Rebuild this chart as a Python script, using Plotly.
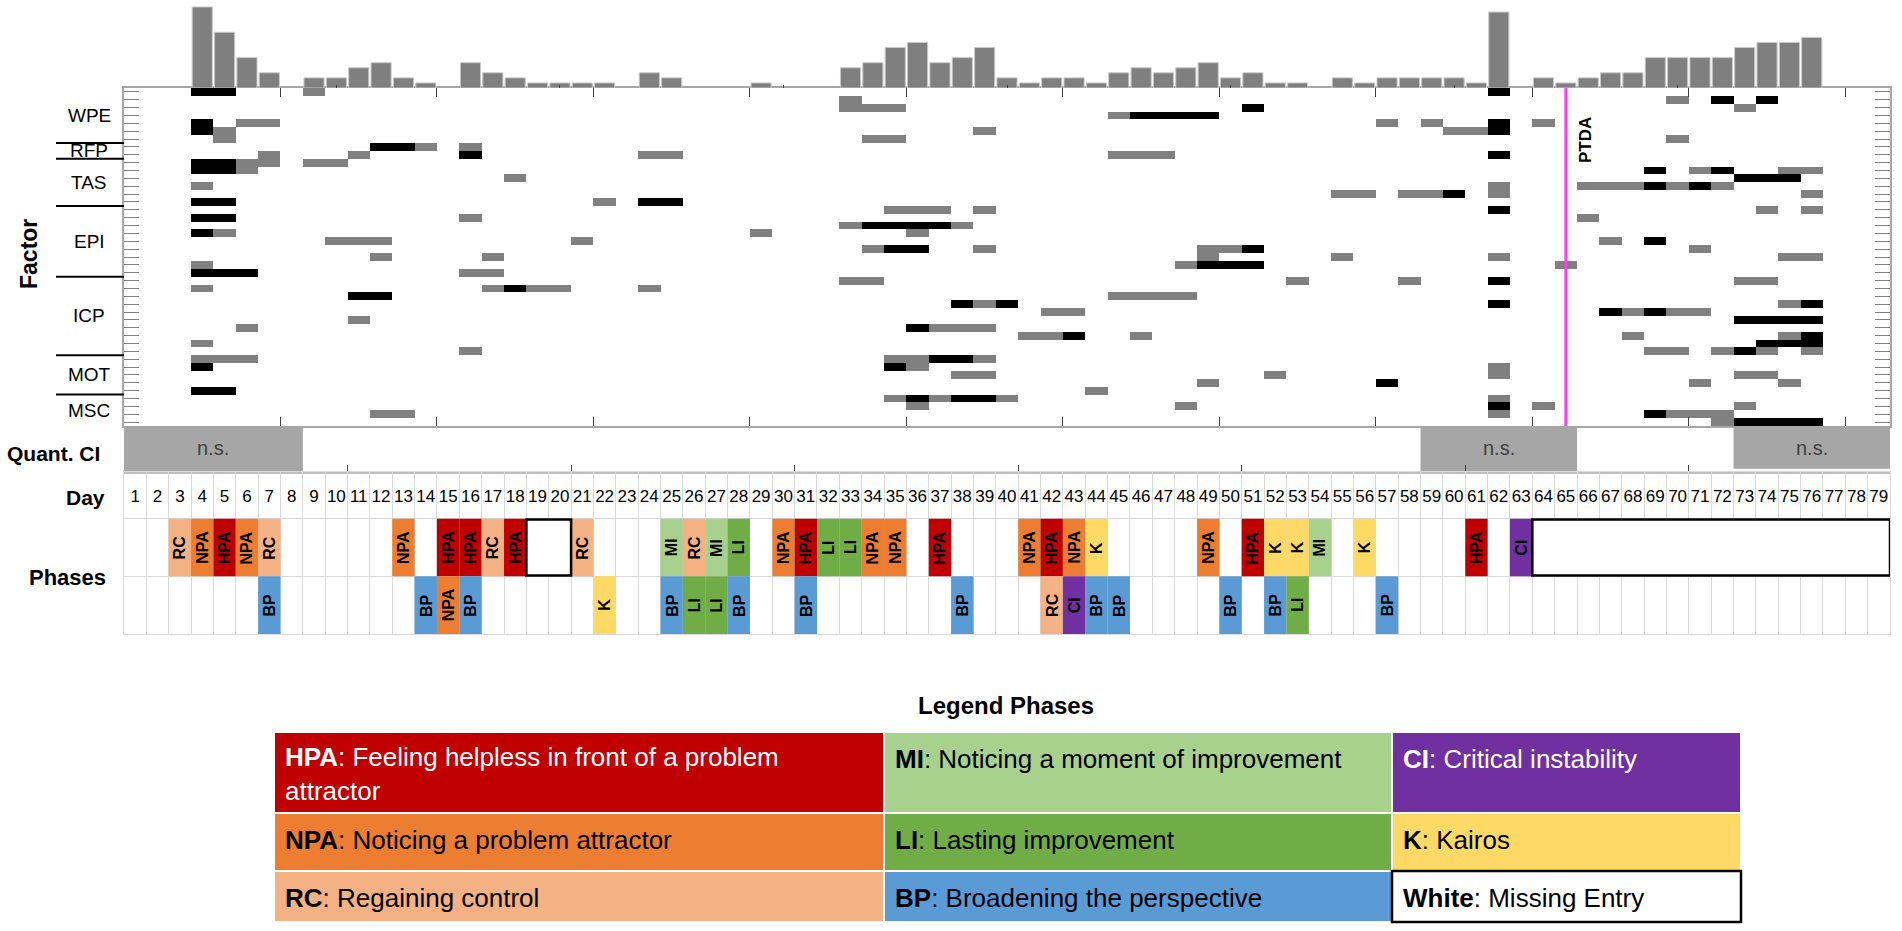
import plotly.graph_objects as go

W, H = 1902, 931
N_DAYS = 79
days = list(range(1, N_DAYS + 1))

# ---------------- data ----------------
# histogram above the heat map (days with a bar, bar heights)
hist_days = [4, 5, 6, 7, 9, 10, 11, 12, 13, 14, 16, 17, 18, 19, 20, 21, 22, 24, 25, 29,
             33, 34, 35, 36, 37, 38, 39, 40, 41, 42, 43, 44, 45, 46, 47, 48, 49, 50, 51, 52, 53,
             55, 56, 57, 58, 59, 60, 61, 62, 64, 65, 66, 67, 68, 69, 70, 71, 72, 73, 74, 75, 76]
hist_counts = [16, 11, 6, 3, 2, 2, 4, 5, 2, 1, 5, 3, 2, 1, 1, 1, 1, 3, 2, 1,
               4, 5, 8, 9, 5, 6, 8, 2, 1, 2, 2, 1, 3, 4, 3, 4, 5, 2, 3, 1, 1,
               2, 1, 2, 2, 2, 2, 1, 15, 2, 1, 2, 3, 3, 6, 6, 6, 6, 8, 9, 9, 10]

# factor groups and number of items (rows) in each
factor_names = ["WPE", "RFP", "TAS", "EPI", "ICP", "MOT", "MSC"]
factor_sizes = [7, 2, 6, 9, 10, 5, 4]

# heat-map marks per factor: (item row within factor, first day, last day, level 1=grey 2=black)
wpe_marks = [(0, 4, 5, 2), (0, 9, 9, 1), (0, 62, 62, 2),
             (1, 33, 33, 1), (1, 70, 70, 1), (1, 72, 72, 2), (1, 74, 74, 2),
             (2, 33, 35, 1), (2, 51, 51, 2), (2, 73, 73, 1),
             (3, 45, 45, 1), (3, 46, 49, 2),
             (4, 4, 4, 2), (4, 6, 7, 1), (4, 57, 57, 1), (4, 59, 59, 1), (4, 62, 62, 2), (4, 64, 64, 1),
             (5, 4, 4, 2), (5, 5, 5, 1), (5, 39, 39, 1), (5, 60, 61, 1), (5, 62, 62, 2),
             (6, 5, 5, 1), (6, 34, 35, 1), (6, 70, 70, 1)]
rfp_marks = [(0, 12, 13, 2), (0, 14, 14, 1), (0, 16, 16, 1),
             (1, 7, 7, 1), (1, 11, 11, 1), (1, 16, 16, 2), (1, 24, 25, 1), (1, 45, 47, 1), (1, 62, 62, 2)]
tas_marks = [(0, 4, 5, 2), (0, 6, 6, 1), (0, 7, 7, 1), (0, 9, 10, 1),
             (1, 4, 5, 2), (1, 6, 6, 1), (1, 69, 69, 2), (1, 71, 71, 1), (1, 72, 72, 2), (1, 75, 76, 1),
             (2, 18, 18, 1), (2, 73, 75, 2),
             (3, 4, 4, 1), (3, 62, 62, 1), (3, 66, 68, 1), (3, 69, 69, 2), (3, 70, 70, 1), (3, 71, 71, 2), (3, 72, 72, 1),
             (4, 55, 56, 1), (4, 58, 59, 1), (4, 60, 60, 2), (4, 62, 62, 1), (4, 76, 76, 1),
             (5, 4, 5, 2), (5, 22, 22, 1), (5, 24, 25, 2)]
epi_marks = [(0, 35, 37, 1), (0, 39, 39, 1), (0, 62, 62, 2), (0, 74, 74, 1), (0, 76, 76, 1),
             (1, 4, 5, 2), (1, 16, 16, 1), (1, 66, 66, 1),
             (2, 33, 33, 1), (2, 34, 37, 2), (2, 38, 38, 1),
             (3, 4, 4, 2), (3, 5, 5, 1), (3, 29, 29, 1), (3, 36, 36, 1),
             (4, 10, 12, 1), (4, 21, 21, 1), (4, 67, 67, 1), (4, 69, 69, 2),
             (5, 34, 34, 1), (5, 35, 36, 2), (5, 39, 39, 1), (5, 49, 50, 1), (5, 51, 51, 2), (5, 71, 71, 1),
             (6, 12, 12, 1), (6, 17, 17, 1), (6, 49, 49, 1), (6, 55, 55, 1), (6, 62, 62, 1), (6, 75, 76, 1),
             (7, 4, 4, 1), (7, 48, 48, 1), (7, 49, 51, 2), (7, 65, 65, 1),
             (8, 4, 6, 2), (8, 16, 17, 1)]
icp_marks = [(0, 33, 34, 1), (0, 53, 53, 1), (0, 58, 58, 1), (0, 62, 62, 2), (0, 73, 74, 1),
             (1, 4, 4, 1), (1, 17, 17, 1), (1, 18, 18, 2), (1, 19, 20, 1), (1, 24, 24, 1),
             (2, 11, 12, 2), (2, 45, 48, 1),
             (3, 38, 38, 2), (3, 39, 39, 1), (3, 40, 40, 2), (3, 62, 62, 2), (3, 75, 75, 1), (3, 76, 76, 2),
             (4, 42, 43, 1), (4, 67, 67, 2), (4, 68, 68, 1), (4, 69, 69, 2), (4, 70, 71, 1),
             (5, 11, 11, 1), (5, 73, 76, 2),
             (6, 6, 6, 1), (6, 36, 36, 2), (6, 37, 39, 1),
             (7, 41, 42, 1), (7, 43, 43, 2), (7, 46, 46, 1), (7, 68, 68, 1), (7, 75, 75, 1), (7, 76, 76, 2),
             (8, 4, 4, 1), (8, 74, 76, 2),
             (9, 16, 16, 1), (9, 69, 70, 1), (9, 72, 72, 1), (9, 73, 73, 2), (9, 74, 74, 1), (9, 76, 76, 1)]
mot_marks = [(0, 4, 6, 1), (0, 35, 36, 1), (0, 37, 38, 2), (0, 39, 39, 1),
             (1, 4, 4, 2), (1, 35, 35, 2), (1, 36, 36, 1), (1, 62, 62, 1),
             (2, 38, 39, 1), (2, 52, 52, 1), (2, 62, 62, 1), (2, 73, 74, 1),
             (3, 49, 49, 1), (3, 57, 57, 2), (3, 71, 71, 1), (3, 75, 75, 1),
             (4, 4, 5, 2), (4, 44, 44, 1)]
msc_marks = [(0, 35, 35, 1), (0, 36, 36, 2), (0, 37, 37, 1), (0, 38, 39, 2), (0, 40, 40, 1), (0, 62, 62, 1),
             (1, 36, 36, 1), (1, 48, 48, 1), (1, 62, 62, 2), (1, 64, 64, 1), (1, 73, 73, 1),
             (2, 12, 13, 1), (2, 62, 62, 1), (2, 69, 69, 2), (2, 70, 72, 1),
             (3, 72, 72, 1), (3, 73, 76, 2)]
factor_marks = [wpe_marks, rfp_marks, tas_marks, epi_marks, icp_marks, mot_marks, msc_marks]

# quantitative critical instability: non-significant stretches (first day, last day)
ns_first = [1, 59, 73]
ns_last = [8, 65, 79]

ptda_day = 65

# phases
phase1_days = [3, 4, 5, 6, 7, 13, 15, 16, 17, 18, 21, 25, 26, 27, 28, 30, 31, 32, 33, 34, 35, 37,
               41, 42, 43, 44, 49, 51, 52, 53, 54, 56, 61, 63]
phase1_codes = ["RC", "NPA", "HPA", "NPA", "RC", "NPA", "HPA", "HPA", "RC", "HPA", "RC", "MI", "RC", "MI",
                "LI", "NPA", "HPA", "LI", "LI", "NPA", "NPA", "HPA", "NPA", "HPA", "NPA", "K", "NPA",
                "HPA", "K", "K", "MI", "K", "HPA", "CI"]
phase2_days = [7, 14, 15, 16, 22, 25, 26, 27, 28, 31, 38, 42, 43, 44, 45, 50, 52, 53, 57]
phase2_codes = ["BP", "BP", "NPA", "BP", "K", "BP", "LI", "LI", "BP", "BP", "BP", "RC", "CI", "BP", "BP",
                "BP", "BP", "LI", "BP"]
missing_first = [19, 64]
missing_last = [20, 79]

phase_colors = {"HPA": "#C00000", "NPA": "#ED7D31", "RC": "#F4B183", "MI": "#A9D18E",
                "LI": "#70AD47", "BP": "#5B9BD5", "CI": "#7030A0", "K": "#FFD966", "White": "#FFFFFF"}

legend_codes = ["HPA", "MI", "CI", "NPA", "LI", "K", "RC", "BP", "White"]
legend_texts = ["Feeling helpless in front of a problem<br>attractor", "Noticing a moment of improvement",
                "Critical instability", "Noticing a problem attractor", "Lasting improvement", "Kairos",
                "Regaining control", "Broadening the perspective", "Missing Entry"]
legend_text_colors = ["white", "black", "white", "black", "black", "black", "black", "black", "black"]

# ---------------- layout helpers ----------------
FONT = "Liberation Sans, Arial, sans-serif"
XL, XR = 124, 1890  # plot left/right in px


def py(p):  # page pixel y -> paper
    return 1 - p / H


def px(p):
    return p / W


def ann(**kw):
    d = dict(showarrow=False, xanchor="center", yanchor="middle")
    d.update(kw)
    return d


xdom = [px(XL), px(XR)]
xr = [0.5, N_DAYS + 0.5]

# build heat-map matrix
n_rows = sum(factor_sizes)
z = [[0] * N_DAYS for _ in range(n_rows)]
offset = 0
for size, marks in zip(factor_sizes, factor_marks):
    for r, d0, d1, lev in marks:
        for d in range(d0, d1 + 1):
            z[offset + r][d - 1] = lev
    offset += size

fig = go.Figure()

fig.add_trace(go.Heatmap(
    z=z, x=days, y=list(range(n_rows)), xaxis="x", yaxis="y3",
    zmin=0, zmax=2, showscale=False, hoverinfo="skip",
    colorscale=[[0, "white"], [0.33, "white"], [0.34, "#808080"], [0.66, "#808080"],
                [0.67, "black"], [1, "black"]]))

fig.add_trace(go.Bar(
    x=hist_days, y=hist_counts, xaxis="x3", yaxis="y2", width=0.9,
    marker=dict(color="#7f7f7f", line=dict(color="#c8c8c8", width=1)), hoverinfo="skip"))

# quant CI boxes
fig.add_trace(go.Bar(
    x=[(a + b) / 2 for a, b in zip(ns_first, ns_last)],
    width=[b - a + 1 for a, b in zip(ns_first, ns_last)],
    y=[0.96, 0.96, 0.90], base=[0.02, 0.02, 0.07],
    xaxis="x4", yaxis="y5", marker=dict(color="#a6a6a6", line=dict(width=0)), hoverinfo="skip"))

# phases rows
fig.add_trace(go.Bar(
    x=phase1_days, y=[1] * len(phase1_days), base=[1] * len(phase1_days), width=1,
    xaxis="x5", yaxis="y4", marker=dict(color=[phase_colors[c] for c in phase1_codes], line=dict(width=0)),
    hoverinfo="skip"))
fig.add_trace(go.Bar(
    x=phase2_days, y=[1] * len(phase2_days), base=[0] * len(phase2_days), width=1,
    xaxis="x5", yaxis="y4", marker=dict(color=[phase_colors[c] for c in phase2_codes], line=dict(width=0)),
    hoverinfo="skip"))
fig.add_trace(go.Bar(
    x=[(a + b) / 2 for a, b in zip(missing_first, missing_last)],
    width=[b - a + 1 for a, b in zip(missing_first, missing_last)],
    y=[0.97, 0.97], base=[1.015, 1.015],
    xaxis="x5", yaxis="y4", marker=dict(color="white", line=dict(color="black", width=2.5)),
    hoverinfo="skip"))

# day numbers
fig.add_trace(go.Scatter(
    x=days, y=[2.37] * N_DAYS, mode="text", text=[str(d) for d in days],
    textfont=dict(family=FONT, size=17, color="black"), xaxis="x5", yaxis="y4", hoverinfo="skip"))

annotations = []
shapes = []

for d, c in zip(phase1_days, phase1_codes):
    annotations.append(ann(x=d, y=1.5, xref="x5", yref="y4", text="<b>%s</b>" % c, textangle=-90,
                           font=dict(family=FONT, size=16, color="black")))
for d, c in zip(phase2_days, phase2_codes):
    annotations.append(ann(x=d, y=0.5, xref="x5", yref="y4", text="<b>%s</b>" % c, textangle=-90,
                           font=dict(family=FONT, size=16, color="black")))

for a, b in zip(ns_first, ns_last):
    annotations.append(ann(x=(a + b) / 2, y=0.52, xref="x4", yref="y5", text="n.s.",
                           font=dict(family=FONT, size=20, color="#404040")))

# factor labels and separators
offset = 0
for name, size in zip(factor_names, factor_sizes):
    annotations.append(ann(x=px(89), y=offset + (size - 1) / 2, xref="paper", yref="y3", text=name,
                           font=dict(family=FONT, size=19, color="black")))
    if offset > 0:
        shapes.append(dict(type="line", xref="paper", yref="y3", x0=px(56), x1=px(XL),
                           y0=offset - 0.5, y1=offset - 0.5, line=dict(color="black", width=2)))
    offset += size

annotations += [
    ann(x=px(29), y=py(254), xref="paper", yref="paper", text="<b>Factor</b>", textangle=-90,
        font=dict(family=FONT, size=23, color="black")),
    ann(x=px(102), y=py(454), xref="paper", yref="paper", text="<b>Quant. CI</b>", xanchor="right",
        font=dict(family=FONT, size=21, color="black")),
    ann(x=px(107), y=py(497), xref="paper", yref="paper", text="<b>Day</b>", xanchor="right",
        font=dict(family=FONT, size=21, color="black")),
    ann(x=px(108), y=py(577), xref="paper", yref="paper", text="<b>Phases</b>", xanchor="right",
        font=dict(family=FONT, size=22, color="black")),
    ann(x=px(1585), y=py(140), xref="paper", yref="paper", text="<b>PTDA</b>", textangle=-90,
        font=dict(family=FONT, size=17, color="black")),
    ann(x=px(1006), y=py(705), xref="paper", yref="paper", text="<b>Legend Phases</b>",
        font=dict(family=FONT, size=24, color="black")),
]

shapes.append(dict(type="line", xref="x", yref="y3", x0=ptda_day, x1=ptda_day, y0=-0.5, y1=n_rows - 0.5,
                   line=dict(color="#FF3BFF", width=3)))

# legend table
col_edges = [274, 884, 1392, 1741]
row_edges = [732, 813, 871, 922]
for i, (code, txt, tc) in enumerate(zip(legend_codes, legend_texts, legend_text_colors)):
    r, c = divmod(i, 3)
    x0, x1 = col_edges[c], col_edges[c + 1]
    y0, y1 = row_edges[r], row_edges[r + 1]
    border = dict(color="black", width=2.5) if code == "White" else dict(color="white", width=2)
    shapes.append(dict(type="rect", xref="paper", yref="paper", x0=px(x0), x1=px(x1), y0=py(y0), y1=py(y1),
                       fillcolor=phase_colors[code], line=border, layer="above"))
    yc = (757 + 791) / 2 if "<br>" in txt else y0 + 27
    annotations.append(ann(x=px(x0 + 9), y=py(yc), xref="paper", yref="paper", xanchor="left",
                           align="left", text="<b>%s</b>: %s" % (code, txt),
                           font=dict(family=FONT, size=26, color=tc)))

common_x = dict(domain=xdom, range=xr, showticklabels=False, zeroline=False, showgrid=False, fixedrange=True)

fig.update_layout(
    width=W, height=H, margin=dict(l=0, r=0, t=0, b=0),
    paper_bgcolor="white", plot_bgcolor="rgba(0,0,0,0)", showlegend=False, barmode="overlay",
    font=dict(family=FONT),
    xaxis=dict(**common_x, anchor="y3", ticks="inside", tickvals=[7.5 + 7 * i for i in range(11)],
               ticklen=9, tickcolor="#404040", tickwidth=1, showline=True, linecolor="#a6a6a6",
               linewidth=2, mirror="ticks"),
    yaxis3=dict(domain=[py(426), py(88)], range=[n_rows - 0.5, -0.5], anchor="x", ticks="inside",
                tickvals=list(range(n_rows)), ticklen=15, tickcolor="#808080", tickwidth=1,
                showticklabels=False, showline=True, linecolor="#a6a6a6", linewidth=2, mirror="ticks",
                showgrid=False, zeroline=False),
    xaxis3=dict(**common_x, anchor="y2", ticks="inside", tickvals=[10, 20, 30, 40, 50, 60, 70],
                ticklen=3, tickcolor="#404040", showline=False),
    yaxis2=dict(domain=[py(88), py(6)], range=[0, 16.2], anchor="x3", visible=False),
    xaxis4=dict(**common_x, anchor="y5", ticks="inside", tickvals=[10.5, 20.5, 30.5, 40.5, 50.5, 60.5, 70.5],
                ticklen=7, tickcolor="#404040", showline=True, linecolor="#bfbfbf", linewidth=2),
    yaxis5=dict(domain=[py(472), py(426)], range=[0, 1], anchor="x4", visible=False),
    xaxis5=dict(domain=xdom, range=xr, anchor="y4", showticklabels=False, zeroline=False,
                showgrid=True, gridcolor="#d9d9d9", gridwidth=1,
                tickvals=[i + 0.5 for i in range(N_DAYS + 1)], ticks="", showline=True,
                linecolor="#d9d9d9", mirror=True),
    yaxis4=dict(domain=[py(634), py(472)], range=[0, 2.81], anchor="x5", showticklabels=False,
                zeroline=False, showgrid=True, gridcolor="#d9d9d9", tickvals=[1, 2], ticks="",
                showline=True, linecolor="#d9d9d9", mirror=True),
    annotations=annotations, shapes=shapes,
)

fig.write_html("out.html", config={"displayModeBar": False},
               post_script="document.body.style.margin='0px';document.body.style.overflow='hidden';")
